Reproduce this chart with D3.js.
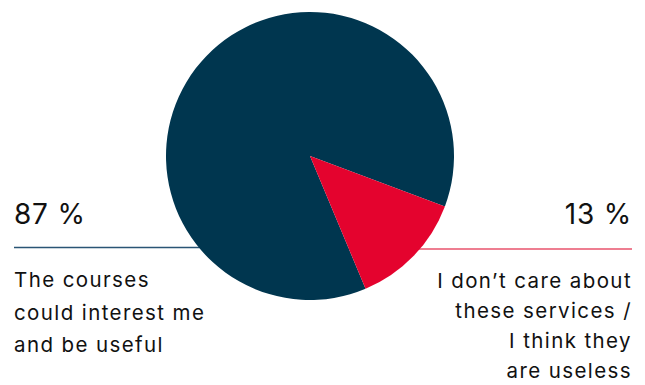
<!DOCTYPE html>
<html><head><meta charset="utf-8">
<script src="https://cdn.jsdelivr.net/npm/d3@7"></script>
<style>html,body{margin:0;padding:0;background:#fff;}svg{display:block;}</style>
</head><body>
<svg id="chart" width="645" height="385"></svg>
<script>
const categories = ["The courses could interest me and be useful", "I don’t care about these services / I think they are useless"];
const values = [87, 13];
const valueLabels = ["87 %", "13 %"];
const labelLines = [["The courses", "could interest me", "and be useful"], ["I don’t care about", "these services /", "I think they", "are useless"]];
const colors = ["#00364f", "#e4032e"];
const lineColors = ["#2a5575", "#e8536d"];

const svg = d3.select("#chart");
const font = "Inter, 'Noto Sans', sans-serif";

// leader lines (under pie)
const lineY = [247.5, 249];
svg.append("line").attr("x1", 14).attr("x2", 320).attr("y1", lineY[0]).attr("y2", lineY[0])
  .attr("stroke", lineColors[0]).attr("stroke-width", 1.5);
svg.append("line").attr("x1", 320).attr("x2", 632).attr("y1", lineY[1]).attr("y2", lineY[1])
  .attr("stroke", lineColors[1]).attr("stroke-width", 1.5);

const cx = 310, cy = 156, r = 144;
const startRed = 110.5 * Math.PI / 180;
const pie = d3.pie().sort(null).value(d => d.v)
  .startAngle(startRed - 2 * Math.PI * values[0] / 100)
  .endAngle(startRed + 2 * Math.PI * values[1] / 100);
const data = values.map((v, i) => ({v, i}));
const arc = d3.arc().innerRadius(0).outerRadius(r);
svg.append("g").attr("transform", `translate(${cx},${cy})`)
  .selectAll("path").data(pie(data)).join("path")
  .attr("d", arc).attr("fill", d => colors[d.data.i]);

// value labels
svg.append("text").attr("x", 14).attr("y", 223.5).attr("font-family", font).attr("font-size", 28)
  .attr("letter-spacing", 0.8)
  .attr("fill", "#111").text(valueLabels[0]);
svg.append("text").attr("x", 632).attr("y", 223.5).attr("text-anchor", "end").attr("font-family", font).attr("font-size", 28)
  .attr("letter-spacing", 0.8)
  .attr("fill", "#111").text(valueLabels[1]);

// category labels
svg.append("text").attr("font-family", font).attr("font-size", 20.5).attr("fill", "#111")
  .attr("letter-spacing", 1.4)
  .selectAll("tspan").data(labelLines[0]).join("tspan")
  .attr("x", 14).attr("y", (d, i) => 287 + i * 32.5).text(d => d);
svg.append("text").attr("font-family", font).attr("font-size", 20.5).attr("fill", "#111").attr("text-anchor", "end")
  .attr("letter-spacing", 1.4)
  .selectAll("tspan").data(labelLines[1]).join("tspan")
  .attr("x", 632).attr("y", (d, i) => 288 + i * 30).text(d => d);
</script>
</body></html>
